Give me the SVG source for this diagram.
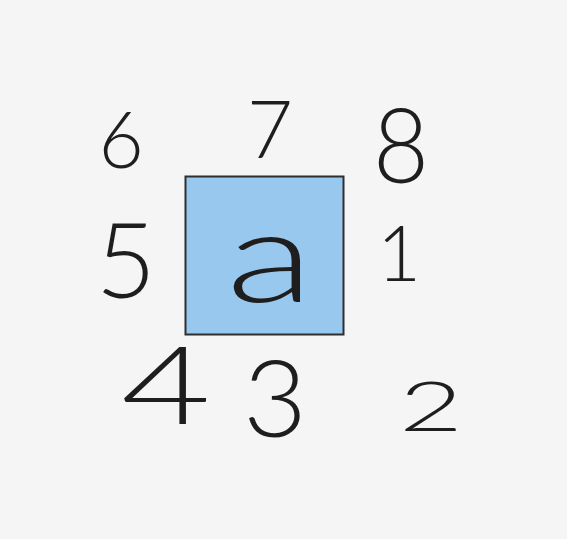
<svg xmlns="http://www.w3.org/2000/svg" width="567" height="539" viewBox="0 0 567 539">
<style>
.d{font-family:"Lato","Open Sans","Liberation Sans",sans-serif;font-weight:300;fill:#1e1e1e;text-anchor:middle}
</style>
<rect x="0" y="0" width="567" height="539" fill="#f5f5f5"/>
<g id="box">
<rect x="185.5" y="176.5" width="158" height="158" fill="#99c8ef" stroke="#2e2e2e" stroke-width="2"/>
<text class="d" x="270" y="302" font-size="128" textLength="88" lengthAdjust="spacingAndGlyphs">a</text>
</g>
<g id="n6"><text class="d" x="121" y="168" font-size="78">6</text></g>
<g id="n7"><text class="d" x="270" y="158" font-size="80" textLength="46" lengthAdjust="spacingAndGlyphs">7</text></g>
<g id="n8"><text class="d" x="401" y="183" font-size="104" textLength="56" lengthAdjust="spacingAndGlyphs">8</text></g>
<g id="n5"><text class="d" x="126" y="298" font-size="104">5</text></g>
<g id="n1"><text class="d" x="399" y="281" font-size="76">1</text></g>
<g id="n4"><text class="d" x="166" y="424" font-size="108" textLength="90" lengthAdjust="spacingAndGlyphs">4</text></g>
<g id="n3"><text class="d" x="275" y="437" font-size="106" textLength="64" lengthAdjust="spacingAndGlyphs">3</text></g>
<g id="n2"><text class="d" x="431" y="431" font-size="68" textLength="64" lengthAdjust="spacingAndGlyphs">2</text></g>
</svg>
